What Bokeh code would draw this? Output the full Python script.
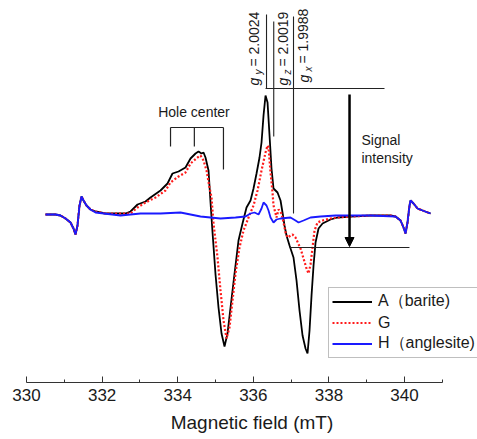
import math
from bokeh.plotting import figure
from bokeh.models import Range1d, FixedTicker, Legend, LegendItem, Arrow, NormalHead
from bokeh.core.properties import value
from bokeh.embed import file_html
from bokeh.resources import INLINE

FONT = "Liberation Sans"

# ---- data (magnetic field in mT, signal in arbitrary units) ----
a_field = [330.503, 330.767, 330.899, 331.032, 331.164, 331.243, 331.296, 331.349, 331.402, 331.455,
           331.508, 331.587, 331.693, 331.825, 332.090, 332.354, 332.619, 332.751, 332.937, 333.148,
           333.280, 333.545, 333.730, 333.862, 334.021, 334.206, 334.339, 334.471, 334.550, 334.630,
           334.683, 334.735, 334.815, 334.868, 334.921, 335.000, 335.079, 335.159, 335.238, 335.317,
           335.397, 335.503, 335.608, 335.714, 335.820, 335.926, 336.005, 336.085, 336.164, 336.217,
           336.270, 336.323, 336.376, 336.429, 336.481, 336.534, 336.587, 336.640, 336.720, 336.772,
           336.825, 336.878, 336.958, 337.063, 337.143, 337.222, 337.302, 337.381, 337.434, 337.487,
           337.540, 337.593, 337.646, 337.725, 337.831, 338.042, 338.228, 338.571, 339.101, 339.630,
           339.762, 339.894, 339.974, 340.026, 340.079, 340.132, 340.159, 340.238, 340.344, 340.476,
           340.688]
a_signal = [0, 0, -1, -4, -8, -14, -20, -11, 9, 18,
            14, 9, 5, 3, 1, 1, 1, 3, 10, 13,
            17, 24, 31, 41, 43, 47, 56, 61, 63, 61,
            62, 57, 44, 12, -18, -60, -93, -119, -132, -119,
            -93, -59, -26, -9, 7, 14, 26, 41, 57, 72,
            99, 119, 112, 79, 46, 26, 24, 22, 14, 2,
            -11, -21, -31, -43, -66, -96, -121, -134, -139, -116,
            -81, -51, -28, -14, -9, -5, -3, -2, -1, -1,
            -2, -6, -13, -19, -8, 9, 14, 11, 6, 4,
            1]

g_field = [330.503, 330.767, 330.899, 331.032, 331.164, 331.243, 331.296, 331.349, 331.402, 331.455,
           331.508, 331.587, 331.693, 331.825, 332.090, 332.354, 332.619, 332.751, 332.937, 333.148,
           333.413, 333.677, 333.810, 334.021, 334.206, 334.339, 334.524, 334.603, 334.683, 334.762,
           334.841, 334.894, 334.947, 335.053, 335.132, 335.212, 335.291, 335.370, 335.450, 335.529,
           335.635, 335.741, 335.873, 336.005, 336.111, 336.217, 336.323, 336.376, 336.402, 336.455,
           336.508, 336.534, 336.614, 336.667, 336.746, 336.799, 336.852, 336.905, 337.037, 337.116,
           337.249, 337.328, 337.407, 337.460, 337.513, 337.566, 337.619, 337.698, 337.831, 338.042,
           338.228, 338.571, 339.101, 339.630, 339.762, 339.894, 339.974, 340.026, 340.079, 340.132,
           340.159, 340.238, 340.344, 340.476, 340.688]
g_signal = [0, 0, -1, -4, -8, -14, -20, -11, 9, 18,
            14, 9, 5, 3, 1, 1, 1, 1, 7, 12,
            17, 24, 32, 38, 42, 51, 57, 59, 54, 44,
            27, 17, -9, -43, -76, -106, -124, -113, -86, -59,
            -33, -16, -3, 9, 24, 44, 62, 69, 67, 42,
            22, 9, -3, 5, 1, -8, -18, -23, -20, -23,
            -34, -44, -54, -59, -50, -33, -16, -8, -6, -4,
            -3, -2, -1, -1, -2, -6, -13, -19, -8, 9,
            14, 11, 6, 4, 1]

h_field = [330.503, 330.767, 330.899, 331.032, 331.164, 331.243, 331.296, 331.349, 331.402, 331.455,
           331.508, 331.587, 331.693, 331.825, 332.487, 333.016, 333.545, 334.074, 334.603, 335.132,
           335.529, 335.794, 335.926, 336.032, 336.138, 336.217, 336.270, 336.349, 336.402, 336.455,
           336.534, 336.614, 336.720, 336.984, 337.116, 337.196, 337.328, 337.513, 337.778, 338.175,
           338.571, 339.101, 339.762, 339.894, 339.974, 340.026, 340.079, 340.132, 340.159, 340.238,
           340.344, 340.476, 340.688]
h_signal = [0, 0, -1, -4, -8, -14, -20, -11, 9, 18,
            14, 9, 5, 2, -1, 1, 1, 2, -2, -4,
            -3, -2, 1, 2, 0, 6, 12, 9, 4, -3,
            -8, -5, -4, -3, -6, -8, -6, -3, -2, -1,
            -1, -1, -2, -6, -13, -19, -8, 9, 14, 11,
            6, 4, 1]

series_labels = ["A（barite)", "G", "H（anglesite)"]
major_ticks = [330, 332, 334, 336, 338, 340]
minor_ticks = [331, 333, 335, 337, 339, 341]

# ---- figure ----
p = figure(width=477, height=439, output_backend="svg", toolbar_location=None,
           x_range=Range1d(330, 341.93), y_range=Range1d(-168, 214),
           y_axis_location=None,
           min_border_left=26, min_border_right=0, min_border_top=0, min_border_bottom=57)
p.outline_line_color = None
p.xgrid.visible = False
p.ygrid.visible = False
p.background_fill_color = "white"
p.border_fill_color = "white"

ax = p.xaxis[0]
ax.bounds = (330, 341)
ax.ticker = FixedTicker(ticks=major_ticks, minor_ticks=minor_ticks)
ax.axis_label = "Magnetic field (mT)"
ax.axis_label_text_font = FONT
ax.axis_label_text_font_size = "19px"
ax.axis_label_text_font_style = "normal"
ax.axis_label_text_color = "#1a1a1a"
ax.axis_label_standoff = 8
ax.major_label_text_font = FONT
ax.major_label_text_font_size = "17px"
ax.major_label_text_color = "#1a1a1a"
ax.major_label_standoff = 6
ax.major_tick_in = 6
ax.major_tick_out = 0
ax.minor_tick_in = 3
ax.minor_tick_out = 0
ax.axis_line_color = "#333333"
ax.major_tick_line_color = "#333333"
ax.minor_tick_line_color = "#333333"
ax.axis_line_width = 1.2

# ---- curves ----
ra = p.line(a_field, a_signal, line_color="black", line_width=1.8)
rg = p.line(g_field, g_signal, line_color="#ff1a1a", line_width=2.2, line_dash="2 2")
rh = p.line(h_field, h_signal, line_color="#1a1aff", line_width=1.8)

# ---- annotations ----
ann = "#222222"
# bracket for hole center
p.segment(x0=[333.81, 333.81, 334.44, 335.21], y0=[87, 87, 87, 87],
          x1=[335.21, 333.81, 334.44, 335.21], y1=[87, 68, 68, 45],
          line_color=ann, line_width=1.2)
p.text(x=[334.43], y=[103], text=["Hole center"], text_font=value(FONT), text_font_size="14px",
       text_align="center", text_baseline="middle", text_color="#1a1a1a")

# g-value lines and guide lines
p.segment(x0=[336.349, 336.54, 337.063, 336.323, 336.96],
          y0=[200, 193, 198, 126, -33],
          x1=[336.349, 336.54, 337.063, 339.47, 340.13],
          y1=[126, 78, 1, 126, -33],
          line_color=ann, line_width=1.1)

rot = math.pi / 2
p.text(x=[336.005, 336.772, 337.328], y=[129, 129, 132], text=["g", "g", "g"], angle=rot,
       text_font=value(FONT), text_font_size="14px", text_font_style="italic",
       text_align="left", text_baseline="middle", text_color="#1a1a1a")
p.text(x=[336.138, 336.905, 337.460], y=[140, 140, 143], text=["y", "z", "x"], angle=rot,
       text_font=value(FONT), text_font_size="10px", text_font_style="italic",
       text_align="left", text_baseline="middle", text_color="#1a1a1a")
p.text(x=[336.005, 336.772, 337.315], y=[148, 148, 151], text=["= 2.0024", "= 2.0019", "= 1.9988"], angle=rot,
       text_font=value(FONT), text_font_size="14px",
       text_align="left", text_baseline="middle", text_color="#1a1a1a")

# signal intensity arrow
p.add_layout(Arrow(end=NormalHead(size=9, fill_color="black", line_color="black", line_width=1),
                   x_start=338.545, y_start=120, x_end=338.545, y_end=-32,
                   line_width=2.5, line_color="black"))
p.text(x=[338.86, 338.86], y=[75, 57], text=["Signal", "intensity"], text_font=value(FONT),
       text_font_size="14px", text_align="left", text_baseline="middle", text_color="#1a1a1a")

# ---- legend ----
legend = Legend(items=[LegendItem(label=series_labels[0], renderers=[ra]),
                       LegendItem(label=series_labels[1], renderers=[rg]),
                       LegendItem(label=series_labels[2], renderers=[rh])],
                location=(302, 24))
legend.label_text_font = FONT
legend.label_text_font_size = "16px"
legend.label_text_color = "#1a1a1a"
legend.glyph_width = 40
legend.glyph_height = 21
legend.label_height = 21
legend.label_standoff = 6
legend.spacing = 0
legend.padding = 3
legend.margin = 0
legend.border_line_color = "#808080"
legend.border_line_width = 1
legend.background_fill_alpha = 1
p.add_layout(legend)

open("out.html", "w").write(file_html(p, INLINE))
